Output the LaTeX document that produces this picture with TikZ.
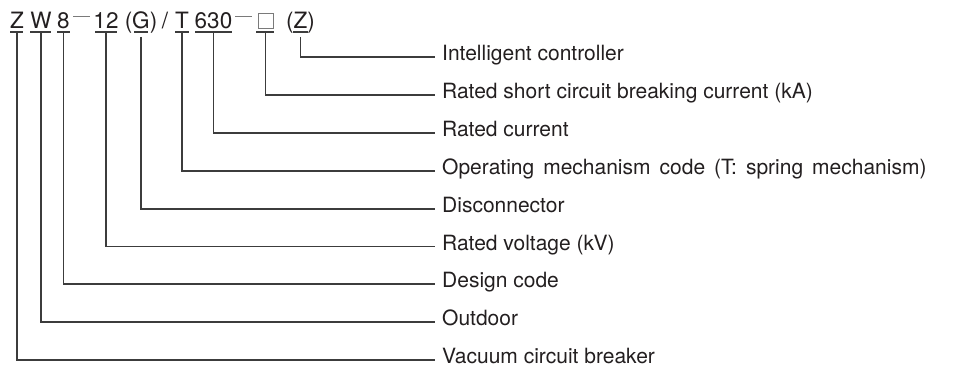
\documentclass[tikz,border=0pt]{standalone}
\usepackage{fontspec}
\setmainfont{TeX Gyre Heros}
\usepackage{xcolor}
\usetikzlibrary{positioning,calc}
\definecolor{leadgray}{HTML}{3C3C3C}
\definecolor{dashgray}{HTML}{7A7A7A}
\definecolor{inkgray}{HTML}{231F20}

\begin{document}
\begin{tikzpicture}[
    x=1pt, y=-1pt,
    code/.style={inner sep=0pt, anchor=base, font=\fontsize{22.5}{26}\selectfont, text=inkgray},
    lab/.style={anchor=west, inner xsep=7pt, inner ysep=0pt, text height=0.72em, text depth=0pt, font=\fontsize{21}{24}\selectfont, text=inkgray},
    lead/.style={draw=leadgray, line width=1.2pt},
    uline/.style={draw=leadgray, line width=1.1pt},
    sep/.style={draw=dashgray, line width=1pt}
]
\useasboundingbox (0,0) rectangle (954,373);
% type designation
\node[code] (cZ) at (17,28) {Z};
\node[code] (cW) at (41,28) {W};
\node[code] (c8) at (63.5,28) {8};
\node[code] (c12) at (106,28) {12};
\node[code] (cG) at (141,28) {(G)};
\node[code] (slash) at (165,28) {/};
\node[code] (cT) at (182,28) {T};
\node[code] (c630) at (213.5,28) {630};
\node[draw=dashgray, line width=0.9pt, inner sep=0pt, minimum size=15pt] (cbox) at (265.5,20.5) {};
\node[code] (cZc) at (300.5,28) {(Z)};
\draw[sep] (73,16.5) -- (90,16.5);
\draw[sep] (235,16.5) -- (252,16.5);
% underlines
\foreach \a/\b in {10/23, 30/51, 57/70, 95/117, 134/148, 175/189, 195/232, 256/274, 293/308}
  \draw[uline] (\a,32) -- (\b,32);
% meanings
\node[lab] (l1) at (435,57) {Intelligent controller};
\node[lab] (l2) at (435,95) {Rated short circuit breaking current (kA)};
\node[lab] (l3) at (435,133) {Rated current};
\node[lab] (l4) at (435,171) {\spaceskip=9pt Operating mechanism code (T: spring mechanism)};
\node[lab] (l5) at (435,209) {Disconnector};
\node[lab] (l6) at (435,246.5) {Rated voltage (kV)};
\node[lab] (l7) at (435,284) {Design code};
\node[lab] (l8) at (435,322) {Outdoor};
\node[lab] (l9) at (435,360) {Vacuum circuit breaker};
% leaders
\draw[lead] ([yshift=-4pt]cZc.south) |- (l1.west);
\draw[lead] ([yshift=-4pt]cbox.south) |- (l2.west);
\draw[lead] ([yshift=-4pt]c630.south) |- (l3.west);
\draw[lead] ([yshift=-4pt]cT.south) |- (l4.west);
\draw[lead] ([yshift=-4pt]cG.south) |- (l5.west);
\draw[lead] ([yshift=-4pt]c12.south) |- (l6.west);
\draw[lead] ([yshift=-4pt]c8.south) |- (l7.west);
\draw[lead] ([yshift=-4pt]cW.south) |- (l8.west);
\draw[lead] ([yshift=-4pt]cZ.south) |- (l9.west);
\end{tikzpicture}
\end{document}
